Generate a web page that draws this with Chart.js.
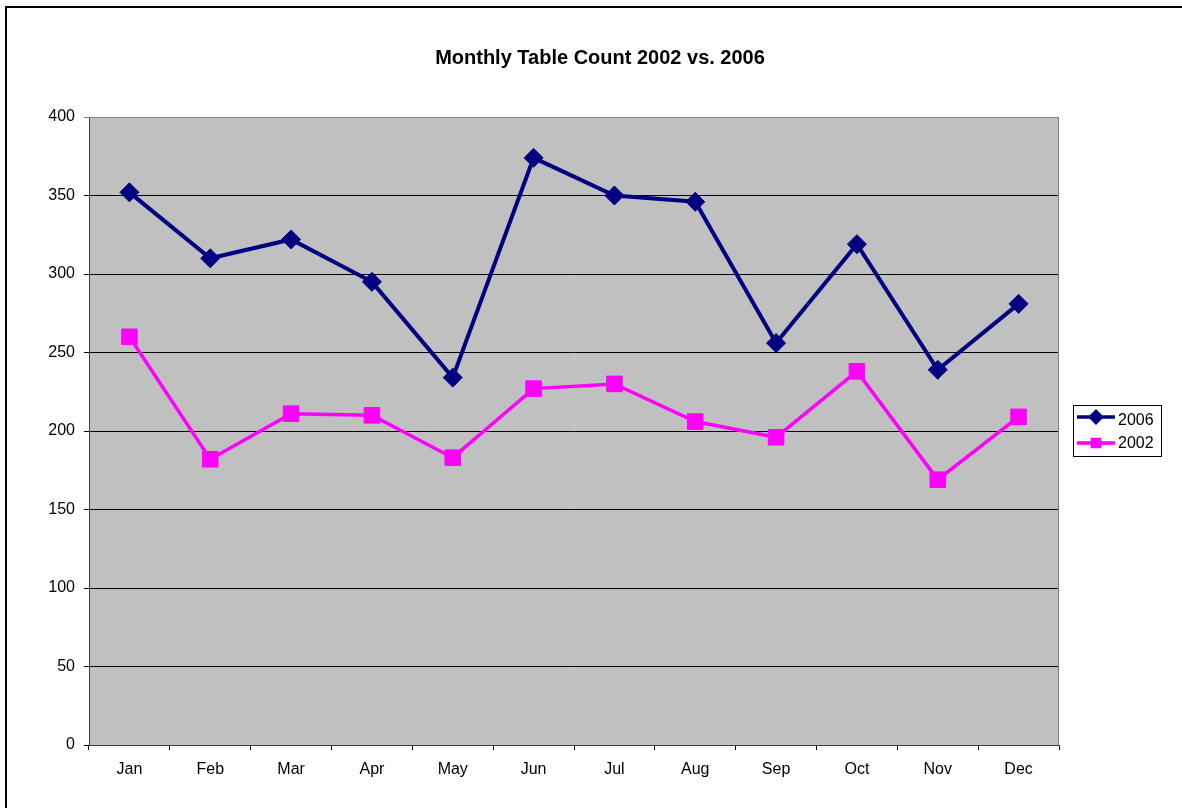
<!DOCTYPE html>
<html>
<head>
<meta charset="utf-8">
<title>Monthly Table Count 2002 vs. 2006</title>
<script src="https://cdn.jsdelivr.net/npm/chart.js@4"></script>
<style>
  html, body { margin: 0; padding: 0; background: #fff; }
  #wrap { width: 1182px; height: 808px; }
</style>
</head>
<body>
<div id="wrap"><canvas id="chart" width="1182" height="808"></canvas></div>
<script>
// ---------- Data ----------
const months = ['Jan', 'Feb', 'Mar', 'Apr', 'May', 'Jun', 'Jul', 'Aug', 'Sep', 'Oct', 'Nov', 'Dec'];
const count2006 = [352, 310, 322, 295, 234, 374, 350, 346, 256, 319, 239, 281];
const count2002 = [260, 182, 211, 210, 183, 227, 230, 206, 196, 238, 169, 209];
const yTicks = [0, 50, 100, 150, 200, 250, 300, 350, 400];

const TITLE = 'Monthly Table Count 2002 vs. 2006';
const FONT = 'Arial, "Liberation Sans", sans-serif';
const NAVY = '#000080';
const MAGENTA = '#FF00FF';

// ---------- Frame, title and legend ----------
const excelFrame = {
  id: 'excelFrame',
  beforeDraw(chart) {
    const { ctx, chartArea: a } = chart;
    ctx.save();
    ctx.fillStyle = '#fff';
    ctx.fillRect(0, 0, chart.width, chart.height);
    // outer chart border (runs off the right and bottom edge)
    ctx.strokeStyle = '#000';
    ctx.lineWidth = 2;
    ctx.strokeRect(6, 7, chart.width + 20, chart.height + 20);
    // plot area
    ctx.fillStyle = '#C0C0C0';
    ctx.fillRect(a.left, a.top, a.right - a.left, a.bottom - a.top);
    ctx.restore();
  },
  beforeDatasetsDraw(chart) {
    const { ctx, chartArea: a } = chart;
    ctx.save();
    ctx.strokeStyle = '#808080';
    ctx.lineWidth = 1;
    ctx.beginPath();
    ctx.moveTo(a.left, a.top + 0.5);
    ctx.lineTo(a.right - 0.5, a.top + 0.5);
    ctx.lineTo(a.right - 0.5, a.bottom);
    ctx.stroke();
    ctx.restore();
  },
  afterDraw(chart) {
    const { ctx } = chart;
    ctx.save();
    ctx.fillStyle = '#000';
    ctx.font = 'bold 20px ' + FONT;
    ctx.textAlign = 'center';
    ctx.textBaseline = 'middle';
    ctx.fillText(TITLE, 600, 58);

    // legend box
    ctx.fillStyle = '#fff';
    ctx.fillRect(1073, 405, 88, 51);
    ctx.strokeStyle = '#000';
    ctx.lineWidth = 1;
    ctx.strokeRect(1073.5, 405.5, 88, 51);

    const rows = [
      { ds: chart.data.datasets[0], y: 417, ty: 421 },
      { ds: chart.data.datasets[1], y: 443, ty: 444 },
    ];
    rows.forEach(r => {
      ctx.strokeStyle = r.ds.borderColor;
      ctx.lineWidth = 3.5;
      ctx.beginPath();
      ctx.moveTo(1077, r.y);
      ctx.lineTo(1115, r.y);
      ctx.stroke();
      Chart.helpers.drawPoint(ctx, {
        pointStyle: r.ds.pointStyle,
        radius: r.ds.pointStyle === 'rect' ? 5 : 5.5,
        rotation: 0,
        borderWidth: 1,
      }, 1096, r.y);
      ctx.fillStyle = r.ds.borderColor;
      ctx.fill();
      ctx.fillStyle = '#000';
      ctx.font = '16px ' + FONT;
      ctx.textAlign = 'left';
      ctx.textBaseline = 'middle';
      ctx.fillText(r.ds.label, 1118, r.ty);
    });
    ctx.restore();
  },
};

// ---------- Chart ----------
new Chart(document.getElementById('chart'), {
  type: 'line',
  data: {
    labels: months,
    datasets: [
      {
        label: '2006',
        data: count2006,
        borderColor: NAVY,
        backgroundColor: NAVY,
        borderWidth: 4,
        pointStyle: 'rectRot',
        pointRadius: 9.5,
        pointBorderWidth: 1,
        tension: 0,
      },
      {
        label: '2002',
        data: count2002,
        borderColor: MAGENTA,
        backgroundColor: MAGENTA,
        borderWidth: 3.5,
        pointStyle: 'rect',
        pointRadius: 11,
        pointBorderWidth: 1,
        tension: 0,
      },
    ],
  },
  options: {
    responsive: false,
    animation: false,
    devicePixelRatio: 1,
    layout: { padding: { left: 0, right: 123, top: 117, bottom: 0 } },
    plugins: {
      legend: { display: false },
      title: { display: false },
      tooltip: { enabled: false },
    },
    scales: {
      x: {
        type: 'category',
        offset: true,
        afterFit: s => { s.height = 63; },
        grid: {
          offset: true,
          drawOnChartArea: false,
          drawTicks: true,
          tickLength: 5,
          color: '#000',
        },
        border: { color: '#404040', width: 1 },
        ticks: { color: '#000', font: { family: FONT, size: 16 }, padding: 10, maxRotation: 0 },
      },
      y: {
        min: 0,
        max: 400,
        afterFit: s => { s.width = 89; },
        afterBuildTicks: s => { s.ticks = yTicks.map(v => ({ value: v })); },
        grid: {
          color: ctx => (ctx.tick && ctx.tick.value === 400 ? '#808080' : '#000'),
          lineWidth: 1,
          tickLength: 5,
          drawTicks: true,
        },
        border: { color: '#404040', width: 1 },
        ticks: { color: '#000', font: { family: FONT, size: 16 }, padding: 9 },
      },
    },
  },
  plugins: [excelFrame],
});
</script>
</body>
</html>
